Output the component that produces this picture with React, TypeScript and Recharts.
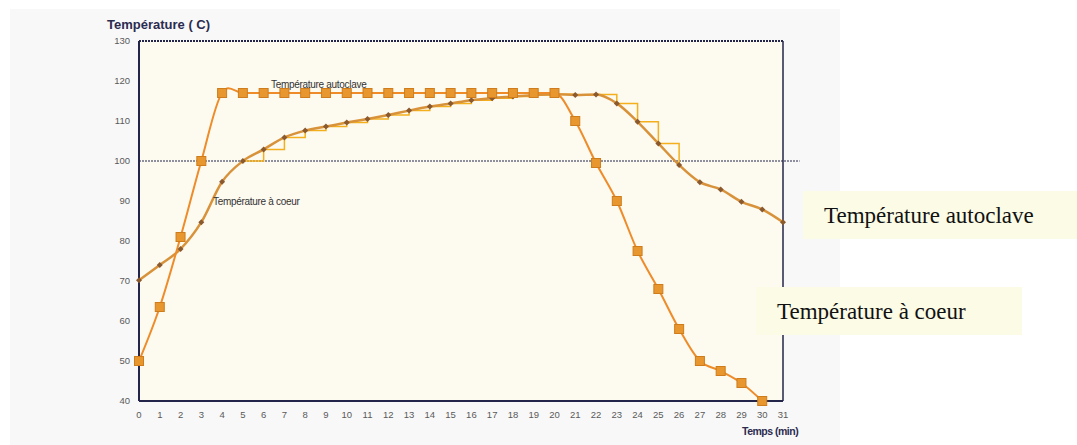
import React from 'react';
import {
  LineChart,
  Line,
  XAxis,
  YAxis,
  ReferenceLine,
  ReferenceArea,
} from 'recharts';

// minutes 0..31
const minutes = Array.from({ length: 32 }, (_, i) => i);
const yTicks = [40, 50, 60, 70, 80, 90, 100, 110, 120, 130];

// Température autoclave (t = 0..30), plus the small overshoot just after 4 min
const autoclaveValues = [
  50, 63.5, 81, 100, 117, 117, 117, 117, 117, 117, 117, 117, 117, 117, 117, 117,
  117, 117, 117, 117, 117, 110, 99.5, 90, 77.5, 68, 58, 50, 47.5, 44.5, 40,
];
const autoclavePeak = { t: 4.3, v: 118.2 };

// Température à coeur (t = 0..31)
const coeurValues = [
  70.2, 74, 78, 84.7, 94.8, 100, 102.9, 105.9, 107.6, 108.6, 109.6, 110.5,
  111.5, 112.6, 113.6, 114.4, 115.2, 115.7, 116.1, 116.5, 116.7, 116.5, 116.6,
  114.4, 109.8, 104.4, 99, 94.7, 92.9, 89.8, 87.9, 84.7,
];
// the staircase is drawn on the coeur curve between these minutes
const stepFrom = 5;
const stepTo = 26;

const autoclaveData = [
  ...autoclaveValues.map((v, i) => ({ t: minutes[i], v })),
  autoclavePeak,
].sort((a, b) => a.t - b.t);
const coeurData = coeurValues.map((v, i) => ({ t: minutes[i], v }));
const stepData = coeurData.filter((d) => d.t >= stepFrom && d.t <= stepTo);

const NAVY = '#23264a';
const axisFont = { fontSize: 9.5, fill: '#5a5a5a', fontFamily: 'Liberation Sans, Arial, sans-serif' };

const SquareDot = (props: any) => {
  const { cx, cy, payload } = props;
  if (cx == null || cy == null || !Number.isInteger(payload.t)) return <g />;
  return (
    <rect
      x={cx - 4.5}
      y={cy - 4.5}
      width={9}
      height={9}
      fill="#e8962e"
      stroke="#cf7d1c"
      strokeWidth={1}
    />
  );
};

const SmallDot = (props: any) => {
  const { cx, cy } = props;
  if (cx == null || cy == null) return <g />;
  return (
    <path
      d={`M${cx} ${cy - 3} L${cx + 3} ${cy} L${cx} ${cy + 3} L${cx - 3} ${cy} Z`}
      fill="#8a5a2e"
    />
  );
};

const legendBox: React.CSSProperties = {
  position: 'absolute',
  background: '#fbfbe6',
  fontFamily: '"Liberation Serif", "Times New Roman", serif',
  fontSize: 23,
  color: '#111',
  whiteSpace: 'nowrap',
  boxSizing: 'border-box',
};

const innerLabel: React.CSSProperties = {
  position: 'absolute',
  fontFamily: 'Liberation Sans, Arial, sans-serif',
  fontSize: 10,
  color: '#333',
  whiteSpace: 'nowrap',
  letterSpacing: -0.3,
};

export default function App() {
  return (
    <div
      style={{
        position: 'absolute',
        left: 0,
        top: 0,
        width: 1077,
        height: 445,
        background: '#ffffff',
        overflow: 'hidden',
      }}
    >
      <div
        style={{
          position: 'absolute',
          left: 10,
          top: 9,
          width: 830,
          height: 436,
          background: '#f8f8f8',
        }}
      />
      <div style={{ position: 'absolute', left: 0, top: 0 }}>
        <LineChart
          width={1077}
          height={445}
          margin={{ top: 41, right: 294, bottom: 14, left: 109 }}
        >
          <XAxis
            dataKey="t"
            type="number"
            domain={[0, 31]}
            ticks={minutes}
            interval={0}
            allowDuplicatedCategory={false}
            height={30}
            tick={axisFont}
            tickLine={false}
            tickSize={5}
            tickMargin={5}
            axisLine={{ stroke: NAVY, strokeWidth: 2 }}
          />
          <YAxis
            type="number"
            domain={[40, 130]}
            ticks={yTicks}
            interval={0}
            width={30}
            tick={axisFont}
            tickLine={false}
            tickSize={5}
            tickMargin={4}
            axisLine={{ stroke: NAVY, strokeWidth: 2 }}
          />
          <ReferenceArea x1={0} x2={31} y1={40} y2={130} fill="#fdfaf0" fillOpacity={1} stroke="none" />
          <ReferenceLine y={130} stroke={NAVY} strokeWidth={2} strokeDasharray="2 1" />
          <ReferenceLine x={31} stroke={NAVY} strokeWidth={1.5} />
          <ReferenceLine
            segment={[
              { x: 0, y: 100 },
              { x: 31.8, y: 100 },
            ]}
            ifOverflow="visible"
            stroke={NAVY}
            strokeWidth={1.2}
            strokeDasharray="2 1"
          />
          <Line
            data={stepData}
            dataKey="v"
            type="stepAfter"
            stroke="#f4b01c"
            strokeWidth={1.5}
            dot={false}
            activeDot={false}
            isAnimationActive={false}
          />
          <Line
            data={coeurData}
            dataKey="v"
            type="monotone"
            stroke="#d8923a"
            strokeWidth={2.5}
            dot={<SmallDot />}
            activeDot={false}
            isAnimationActive={false}
          />
          <Line
            data={autoclaveData}
            dataKey="v"
            type="monotone"
            stroke="#ee8c2a"
            strokeWidth={2}
            dot={<SquareDot />}
            activeDot={false}
            isAnimationActive={false}
          />
        </LineChart>
      </div>

      <div
        style={{
          position: 'absolute',
          left: 107,
          top: 17,
          fontFamily: 'Liberation Sans, Arial, sans-serif',
          fontWeight: 700,
          fontSize: 13,
          color: '#2b2b50',
          whiteSpace: 'nowrap',
        }}
      >
        Température ( C)
      </div>
      <div
        style={{
          position: 'absolute',
          left: 742,
          top: 425,
          fontFamily: 'Liberation Sans, Arial, sans-serif',
          fontWeight: 700,
          fontSize: 10.5,
          letterSpacing: -0.5,
          color: '#2b2b50',
          whiteSpace: 'nowrap',
        }}
      >
        Temps (min)
      </div>

      <div style={{ ...innerLabel, left: 271, top: 79 }}>Température autoclave</div>
      <div style={{ ...innerLabel, left: 213, top: 196 }}>Température à coeur</div>

      <div style={{ ...legendBox, left: 803, top: 191, width: 274, height: 48, padding: '12px 0 0 21px' }}>
        Température autoclave
      </div>
      <div style={{ ...legendBox, left: 756, top: 287, width: 266, height: 48, padding: '12px 0 0 21px' }}>
        Température à coeur
      </div>
    </div>
  );
}
